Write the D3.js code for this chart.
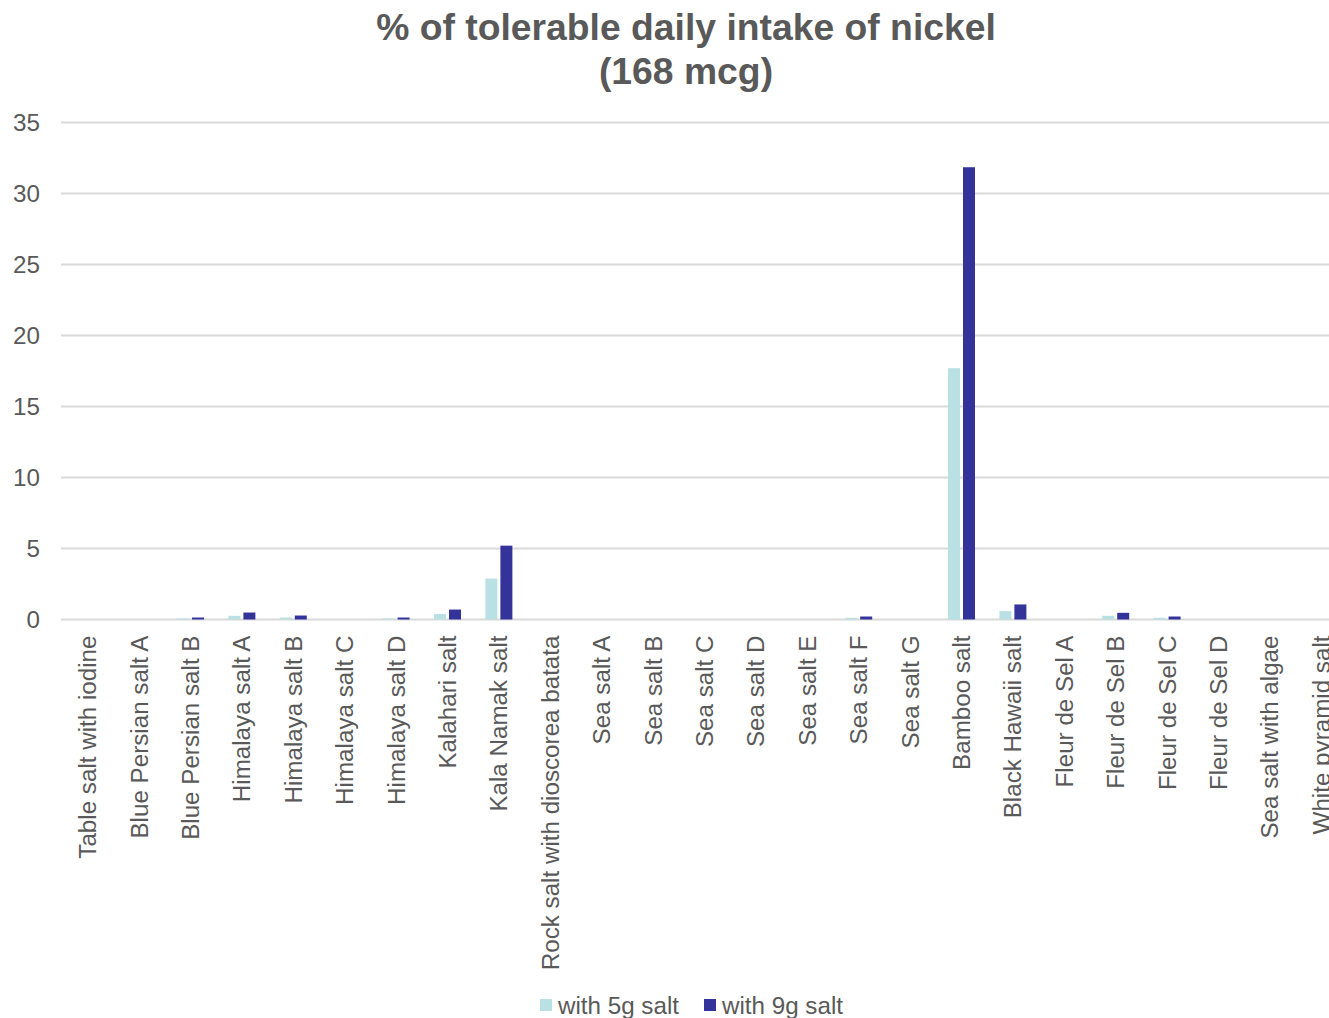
<!DOCTYPE html>
<html>
<head>
<meta charset="utf-8">
<script src="https://cdn.jsdelivr.net/npm/d3@7"></script>
<style>
  html, body { margin: 0; padding: 0; background: #fff; overflow: hidden; }
  svg { display: block; font-family: "Liberation Sans", Arial, sans-serif; }
</style>
</head>
<body>
<svg id="chart" width="1329" height="1018"></svg>
<script>
const categories = [
  "Table salt with iodine", "Blue Persian salt A", "Blue Persian salt B",
  "Himalaya salt A", "Himalaya salt B", "Himalaya salt C", "Himalaya salt D",
  "Kalahari salt", "Kala Namak salt", "Rock salt with dioscorea batata",
  "Sea salt A", "Sea salt B", "Sea salt C", "Sea salt D", "Sea salt E",
  "Sea salt F", "Sea salt G", "Bamboo salt", "Black Hawaii salt",
  "Fleur de Sel A", "Fleur de Sel B", "Fleur de Sel C", "Fleur de Sel D",
  "Sea salt with algae", "White pyramid salt"
];
const with5g = [0, 0, 0.07, 0.26, 0.14, 0, 0.07, 0.39, 2.88, 0, 0, 0, 0, 0, 0, 0.12, 0, 17.7, 0.59, 0, 0.26, 0.12, 0, 0, 0];
const with9g = [0, 0, 0.14, 0.49, 0.28, 0, 0.14, 0.70, 5.2, 0, 0, 0, 0, 0, 0, 0.21, 0, 31.85, 1.06, 0, 0.47, 0.21, 0, 0, 0];
const seriesNames = ["with 5g salt", "with 9g salt"];
const seriesColors = ["#b9e0e3", "#333399"];
const yTicks = [0, 5, 10, 15, 20, 25, 30, 35];
const titleLines = ["% of tolerable daily intake of nickel", "(168 mcg)"];

const svg = d3.select("#chart");
const textColor = "#595959";
const fontSize = 24.2;
const plotLeft = 62, plotRight = 62 + 51.4 * 25, plotTop = 122.5, plotBottom = 619.5;

const x = d3.scaleBand().domain(categories).range([plotLeft, plotRight]).paddingInner(0.475).paddingOuter(0.2375);
const xs = d3.scaleBand().domain(seriesNames).range([0, x.bandwidth()]).paddingInner(0.2);
const y = d3.scaleLinear().domain([0, 35]).range([plotBottom, plotTop]);

// title
svg.append("g").selectAll("text").data(titleLines).join("text")
  .attr("x", 686).attr("y", (d, i) => 39.5 + i * 44)
  .attr("text-anchor", "middle")
  .attr("font-size", 37.3).attr("font-weight", "bold")
  .attr("fill", textColor).text(d => d);

// gridlines
svg.append("g").selectAll("line").data(yTicks).join("line")
  .attr("x1", plotLeft - 1).attr("x2", plotRight)
  .attr("y1", d => y(d)).attr("y2", d => y(d))
  .attr("stroke", "#d9d9d9").attr("stroke-width", 1.8);

// y axis labels
const yAxis = d3.axisLeft(y).tickValues(yTicks).tickSize(0).tickPadding(0);
const yg = svg.append("g").attr("transform", `translate(40,0)`).call(yAxis);
yg.select(".domain").remove();
yg.selectAll("text").attr("font-size", fontSize).attr("fill", textColor)
  .attr("font-family", "Liberation Sans, Arial, sans-serif");

// bars
const data = categories.map((c, i) => ({ c, vals: [with5g[i], with9g[i]] }));
const groups = svg.append("g").selectAll("g").data(data).join("g")
  .attr("transform", d => `translate(${x(d.c)},0)`);
groups.selectAll("rect").data(d => d.vals.map((v, k) => ({ v, k }))).join("rect")
  .attr("x", d => xs(seriesNames[d.k]))
  .attr("width", xs.bandwidth())
  .attr("y", d => y(d.v))
  .attr("height", d => plotBottom - y(d.v))
  .attr("fill", d => seriesColors[d.k]);

// x axis labels
const xAxis = d3.axisBottom(x).tickSize(0).tickPadding(0);
const xg = svg.append("g").attr("transform", `translate(0,${plotBottom})`).call(xAxis);
xg.select(".domain").remove();
xg.selectAll("text")
  .attr("font-size", fontSize).attr("fill", textColor)
  .attr("font-family", "Liberation Sans, Arial, sans-serif")
  .attr("text-anchor", "end")
  .attr("dy", "0.35em")
  .attr("transform", "translate(0,16) rotate(-90)")
  .attr("x", 0).attr("y", 0);

// legend
const legendItems = [
  { name: seriesNames[0], color: seriesColors[0], x: 540 },
  { name: seriesNames[1], color: seriesColors[1], x: 704 }
];
const lg = svg.append("g").selectAll("g").data(legendItems).join("g")
  .attr("transform", d => `translate(${d.x},999)`);
lg.append("rect").attr("width", 12).attr("height", 12).attr("fill", d => d.color);
lg.append("text").attr("x", 18).attr("y", 14.5)
  .attr("font-size", fontSize).attr("fill", textColor).text(d => d.name);
</script>
</body>
</html>
